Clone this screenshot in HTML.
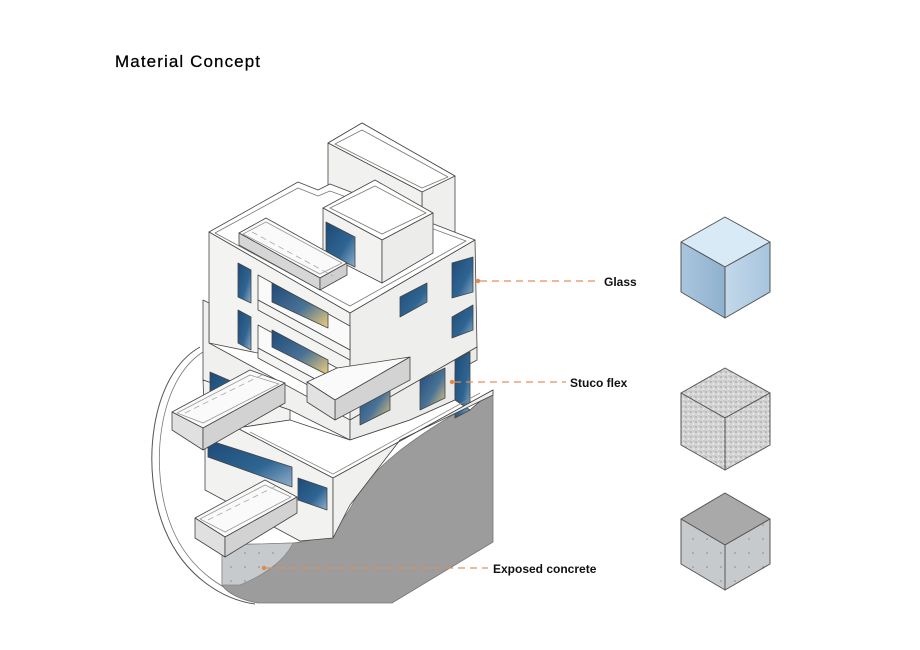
<!DOCTYPE html>
<html><head><meta charset="utf-8"><style>
body{margin:0;background:#fff;}
svg{display:block}
text{font-family:"Liberation Sans",Arial,sans-serif}
</style></head><body>
<svg width="920" height="650" viewBox="0 0 920 650" xmlns="http://www.w3.org/2000/svg">
<defs>
<linearGradient id="gl" x1="0" y1="0" x2="1" y2="1"><stop offset="0" stop-color="#1d4a78"/><stop offset="0.6" stop-color="#2f6592"/><stop offset="1" stop-color="#8fb0cc"/></linearGradient>
<linearGradient id="yl" x1="0" y1="0" x2="1" y2="1"><stop offset="0" stop-color="#1d4a78"/><stop offset="0.55" stop-color="#4a7296"/><stop offset="1" stop-color="#f3cf7a"/></linearGradient>
<linearGradient id="cubeL" x1="0" y1="0" x2="1" y2="0"><stop offset="0" stop-color="#a9c6de"/><stop offset="1" stop-color="#8fb1cf"/></linearGradient>
<linearGradient id="cubeR" x1="0" y1="0" x2="1" y2="0"><stop offset="0" stop-color="#c3d8ea"/><stop offset="1" stop-color="#a7c5de"/></linearGradient>
<pattern id="stu" width="5" height="5" patternUnits="userSpaceOnUse"><rect width="5" height="5" fill="#d4d4d4"/><circle cx="1" cy="2" r="0.9" fill="#a8a8a8"/><circle cx="3.5" cy="4" r="0.8" fill="#f4f4f4"/><circle cx="4" cy="1" r="0.6" fill="#b0b0b0"/></pattern>
<pattern id="con" width="14" height="14" patternUnits="userSpaceOnUse"><rect width="14" height="14" fill="#c6cacd"/><circle cx="7" cy="7" r="0.8" fill="#888"/></pattern>
</defs>

<text x="115" y="67" font-size="17" fill="#000" stroke="#000" stroke-width="0.25" letter-spacing="1.1">Material Concept</text>

<g stroke="#444" stroke-width="0.8" stroke-linejoin="round">
<path d="M200,347 C150,375 140,470 165,530 C185,578 225,600 255,604" fill="none" stroke="#555" stroke-width="1"/>
<path d="M203,352 C158,380 148,470 172,528 C190,572 228,594 258,600" fill="none" stroke="#777" stroke-width="0.8"/>
<path d="M493,392 L493,542 L392,603 L258,603 C240,600 226,592 222,585 L222,545 L293,543 C322,540 340,528 352,505 C368,472 405,440 493,392 Z" fill="#9c9c9c" stroke="#777"/>
<path d="M222,545 L293,543 C285,560 265,575 240,585 L222,585 Z" fill="url(#con)" stroke="#888"/>

<polygon points="328,143 362,123 455,176 455,240 422,258 422,192 328,143" fill="#efefed"/>
<polygon points="328,143 362,123 455,176 422,192" fill="#fff"/>
<polygon points="335,144 362,130 448,177 422,188" fill="none" stroke="#777"/>
<polygon points="328,143 328,200 422,250 422,192" fill="#f1f1ef"/>

<polygon points="209,232 298,182 318,190 330,184 475,240 350,313" fill="#fff"/>
<polygon points="215,233 298,188 318,196 330,191 466,241 350,306" fill="none" stroke="#777"/>
<polygon points="209,232 350,313 350,372 209,343" fill="#f3f3f1"/>
<polygon points="350,313 475,240 477,347 350,420" fill="#eeeeec"/>

<polygon points="323,208 375,180 433,213 382,240" fill="#fff"/>
<polygon points="330,208 375,186 426,213 382,234" fill="none" stroke="#777"/>
<polygon points="323,208 382,240 382,283 323,253" fill="#f2f2f0"/>
<polygon points="382,240 433,213 433,253 382,283" fill="#ececea"/>
<polygon points="326,222 355,237 355,267 326,253" fill="url(#gl)"/>

<polygon points="239,233 266,218 347,263 320,278" fill="#fafafa"/>
<polygon points="243,234 266,222 342,263 320,274" fill="none" stroke="#999"/>
<polygon points="239,233 320,278 320,290 239,245" fill="#d6d6d6"/>
<polygon points="320,278 347,263 347,275 320,290" fill="#cfcfcf"/>
<line x1="252" y1="232" x2="333" y2="276" stroke="#aaa" stroke-dasharray="6 4"/>

<polygon points="238,263 251,270 251,303 238,297" fill="url(#gl)"/>
<polygon points="238,310 251,317 251,350 238,343" fill="url(#gl)"/>
<polygon points="258,275 350,326 350,350 258,300" fill="#fafafa"/>
<polygon points="272,283 328,313 328,328 272,302" fill="url(#yl)"/>
<polygon points="258,325 350,375 350,398 258,348" fill="#fafafa"/>
<polygon points="272,330 328,360 328,375 272,347" fill="url(#yl)"/>
<polygon points="258,300 350,350 350,360 258,310" fill="#f4f4f2"/>
<polygon points="258,348 350,398 350,408 258,358" fill="#f4f4f2"/>

<polygon points="452,263 473,257 473,292 452,298" fill="url(#gl)"/>
<polygon points="452,317 473,305 473,330 452,338" fill="url(#gl)"/>
<polygon points="400,297 427,283 427,302 400,317" fill="url(#gl)"/>

<polygon points="203,300 209,303 209,343 350,420 350,440 290,410 203,380" fill="#f0f0ee"/>
<polygon points="203,380 290,410 290,420 237,428 205,432" fill="#f2f2f0"/>
<polygon points="350,420 477,347 477,360 455,372 455,400 410,420 350,440" fill="#ebebe9"/>
<polygon points="455,360 470,352 470,410 455,418" fill="url(#gl)"/>
<polygon points="420,380 445,368 445,398 420,410" fill="url(#yl)"/>
<polygon points="360,395 390,380 390,410 360,425" fill="url(#yl)"/>
<polygon points="210,372 240,385 240,410 210,398" fill="url(#gl)"/>

<polygon points="237,428 290,420 350,440 410,420 455,400 470,410 493,390 333,478" fill="#fff"/>
<polyline points="250,432 333,474 480,393" fill="none" stroke="#888"/>

<polygon points="307,382 337,368 410,357 335,400" fill="#fafafa"/>
<polygon points="335,400 410,357 410,380 335,420" fill="#d3d3d3"/>
<polygon points="307,382 335,400 335,420 307,402" fill="#e2e2e2"/>

<polygon points="205,432 237,428 333,478 333,538 300,541 205,490" fill="#f2f2f0"/>
<polygon points="333,478 493,390 493,395 400,440 350,505 333,538" fill="#f0f0ee"/>
<polygon points="208,440 292,467 292,487 208,457" fill="url(#gl)"/>
<polygon points="298,478 327,488 327,510 298,500" fill="url(#gl)"/>

<polygon points="172,412 250,370 285,383 203,428" fill="#fafafa"/>
<polygon points="177,413 250,375 279,384 203,423" fill="none" stroke="#999"/>
<polygon points="172,412 203,428 203,450 172,430" fill="#e0e0e0"/>
<polygon points="203,428 285,383 285,403 203,450" fill="#d2d2d2"/>
<line x1="185" y1="413" x2="262" y2="375" stroke="#aaa" stroke-dasharray="6 4"/>

<polygon points="195,518 265,480 297,497 225,537" fill="#fafafa"/>
<polygon points="200,519 265,485 291,497 225,532" fill="none" stroke="#999"/>
<polygon points="195,518 225,537 225,557 195,538" fill="#e0e0e0"/>
<polygon points="225,537 297,497 297,513 225,557" fill="#d2d2d2"/>
<line x1="208" y1="520" x2="278" y2="485" stroke="#aaa" stroke-dasharray="6 4"/>
</g>

<g stroke="#e0915a" stroke-width="1.3" stroke-dasharray="7 5" fill="none">
<line x1="480" y1="281" x2="600" y2="281"/>
<line x1="454" y1="382" x2="566" y2="382"/>
<line x1="266" y1="568" x2="488" y2="568"/>
</g>
<g fill="#e08a4a"><circle cx="478" cy="281" r="2.2"/><circle cx="452" cy="382" r="2.2"/><circle cx="264" cy="568" r="2.2"/></g>
<g font-size="12" font-weight="bold" fill="#111">
<text x="604" y="286">Glass</text>
<text x="570" y="387">Stuco flex</text>
<text x="493" y="573">Exposed concrete</text>
</g>

<g stroke="#555" stroke-width="1" stroke-linejoin="round">
<polygon points="725,217 770,242 725,267 681,242" fill="#d7eaf5"/>
<polygon points="681,242 725,267 725,318 681,292" fill="url(#cubeL)"/>
<polygon points="725,267 770,242 770,292 725,318" fill="url(#cubeR)"/>

<polygon points="725,368 770,393 725,418 681,393" fill="url(#stu)"/>
<polygon points="681,393 725,418 725,470 681,445" fill="url(#stu)"/>
<polygon points="725,418 770,393 770,445 725,470" fill="url(#stu)"/>

<polygon points="725,493 770,519 725,545 681,519" fill="#a9a9a9"/>
<polygon points="681,519 725,545 725,590 681,564" fill="url(#con)"/>
<polygon points="725,545 770,519 770,564 725,590" fill="url(#con)"/>
</g>
</svg>
</body></html>
